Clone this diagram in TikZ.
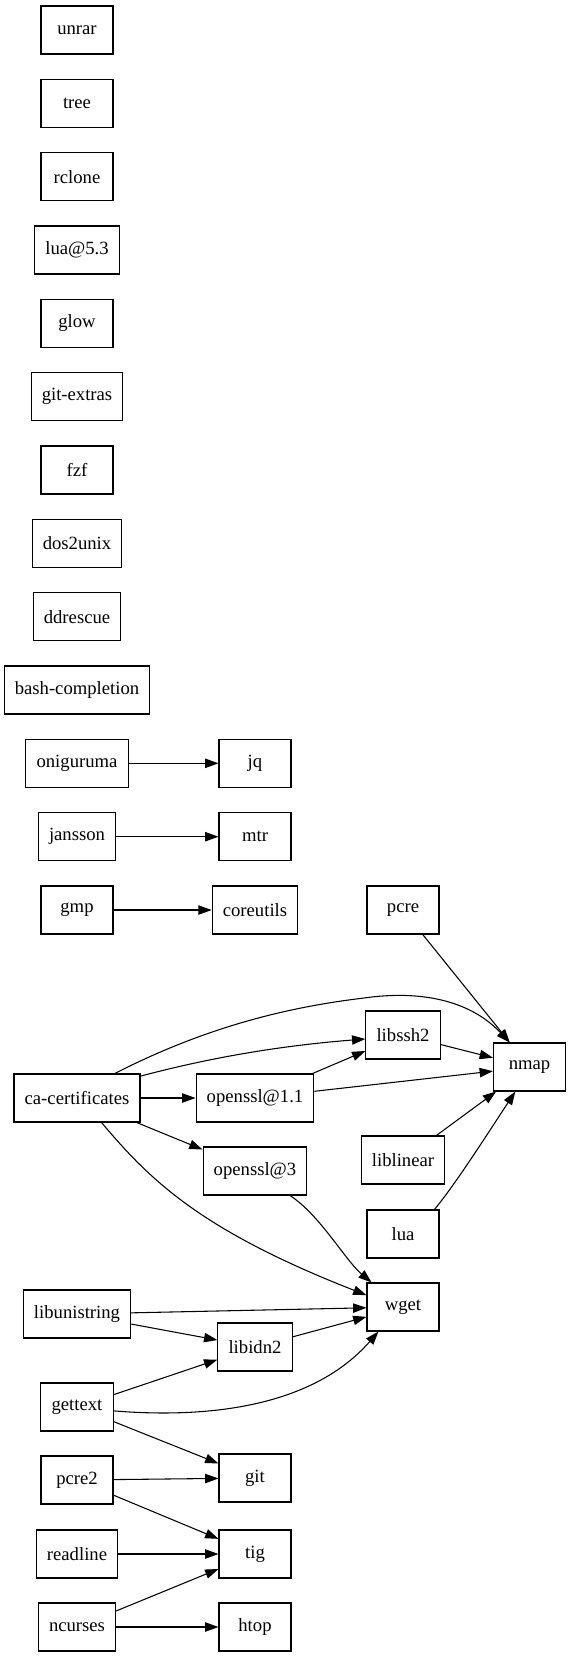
\documentclass[tikz,border=0pt]{standalone}
\usepackage{fontspec}
\setmainfont{Liberation Serif}
\usetikzlibrary{arrows.meta}
\tikzset{
  pkgbox/.style={draw, line width=0.8pt, rectangle, minimum width=54pt, minimum height=36pt, inner xsep=8pt, font=\fontsize{14pt}{16pt}\selectfont},
  deparrow/.style={line width=0.8pt, -{Triangle[length=10pt,width=7pt]}}
}
\newcommand{\pkgnode}[4]{\node[pkgbox] (#1) at (#2,#3) {#4};}
\newcommand{\depedge}[2]{\draw[deparrow] (#1) -- (#2);}

\begin{document}
\begin{tikzpicture}[x=0.75pt,y=-0.75pt]
        \useasboundingbox (0,0) rectangle (568,1657);
        % lone packages
        \pkgnode{unrar}{77}{30}{unrar}
        \pkgnode{tree}{77}{103.3}{tree}
        \pkgnode{rclone}{77}{176.7}{rclone}
        \pkgnode{lua53}{77}{250}{lua@5.3}
        \pkgnode{glow}{77}{323.3}{glow}
        \pkgnode{gitextras}{77}{396.7}{git-extras}
        \pkgnode{fzf}{77}{470}{fzf}
        \pkgnode{dos2unix}{77}{543.3}{dos2unix}
        \pkgnode{ddrescue}{77}{616.7}{ddrescue}
        \pkgnode{bashcompletion}{77}{690}{bash-completion}
        % pairs
        \pkgnode{oniguruma}{77}{763.3}{oniguruma}
        \pkgnode{jq}{255}{763.3}{jq}
        \pkgnode{jansson}{77}{836.7}{jansson}
        \pkgnode{mtr}{255}{836.7}{mtr}
        \pkgnode{gmp}{77}{910}{gmp}
        \pkgnode{coreutils}{255}{910}{coreutils}
        % nmap group
        \pkgnode{pcre}{403}{910}{pcre}
        \pkgnode{libssh2}{403}{1035}{libssh2}
        \pkgnode{nmap}{529.5}{1067}{nmap}
        \pkgnode{cacerts}{77}{1098}{ca-certificates}
        \pkgnode{openssl11}{255}{1098}{openssl@1.1}
        \pkgnode{openssl3}{255}{1171}{openssl@3}
        \pkgnode{liblinear}{403}{1160}{liblinear}
        \pkgnode{lua}{403}{1234}{lua}
        % wget group
        \pkgnode{wget}{403}{1307}{wget}
        \pkgnode{libunistring}{77}{1314}{libunistring}
        \pkgnode{libidn2}{255}{1347}{libidn2}
        \pkgnode{gettext}{77}{1407}{gettext}
        % git, tig, htop
        \pkgnode{pcre2}{77}{1480}{pcre2}
        \pkgnode{git}{255}{1478}{git}
        \pkgnode{readline}{77}{1554}{readline}
        \pkgnode{tig}{255}{1554}{tig}
        \pkgnode{ncurses}{77}{1627}{ncurses}
        \pkgnode{htop}{255}{1627}{htop}

        % straight edges
        \depedge{oniguruma}{jq}
        \depedge{jansson}{mtr}
        \depedge{gmp}{coreutils}
        \depedge{pcre}{nmap}
        \depedge{cacerts}{openssl11}
        \depedge{cacerts}{openssl3}
        \depedge{openssl11}{libssh2}
        \depedge{openssl11}{nmap}
        \depedge{libssh2}{nmap}
        \depedge{liblinear}{nmap}
        \depedge{libunistring}{wget}
        \depedge{libunistring}{libidn2}
        \depedge{libidn2}{wget}
        \depedge{gettext}{libidn2}
        \depedge{gettext}{git}
        \depedge{pcre2}{git}
        \depedge{pcre2}{tig}
        \depedge{readline}{tig}
        \depedge{ncurses}{tig}
        \depedge{ncurses}{htop}
        % curved edges
        \draw[deparrow] (cacerts.33) .. controls (200,1030) and (280,1008) .. (364,998)
                        .. controls (420,990) and (470,1000) .. (nmap.129);
        \draw[deparrow] (cacerts.19) .. controls (220,1055) and (290,1045) .. (libssh2.186);
        \draw[deparrow] (cacerts.-45) .. controls (150,1180) and (200,1230) .. (wget.162);
        \draw[deparrow] (lua.38) .. controls (455,1185) and (490,1130) .. (nmap.-120);
        \draw[deparrow] (openssl3.-35) .. controls (320,1215) and (345,1260) .. (wget.142);
        \draw[deparrow] (gettext.-6) .. controls (200,1418) and (310,1410) .. (wget.-135);
\end{tikzpicture}
\end{document}
